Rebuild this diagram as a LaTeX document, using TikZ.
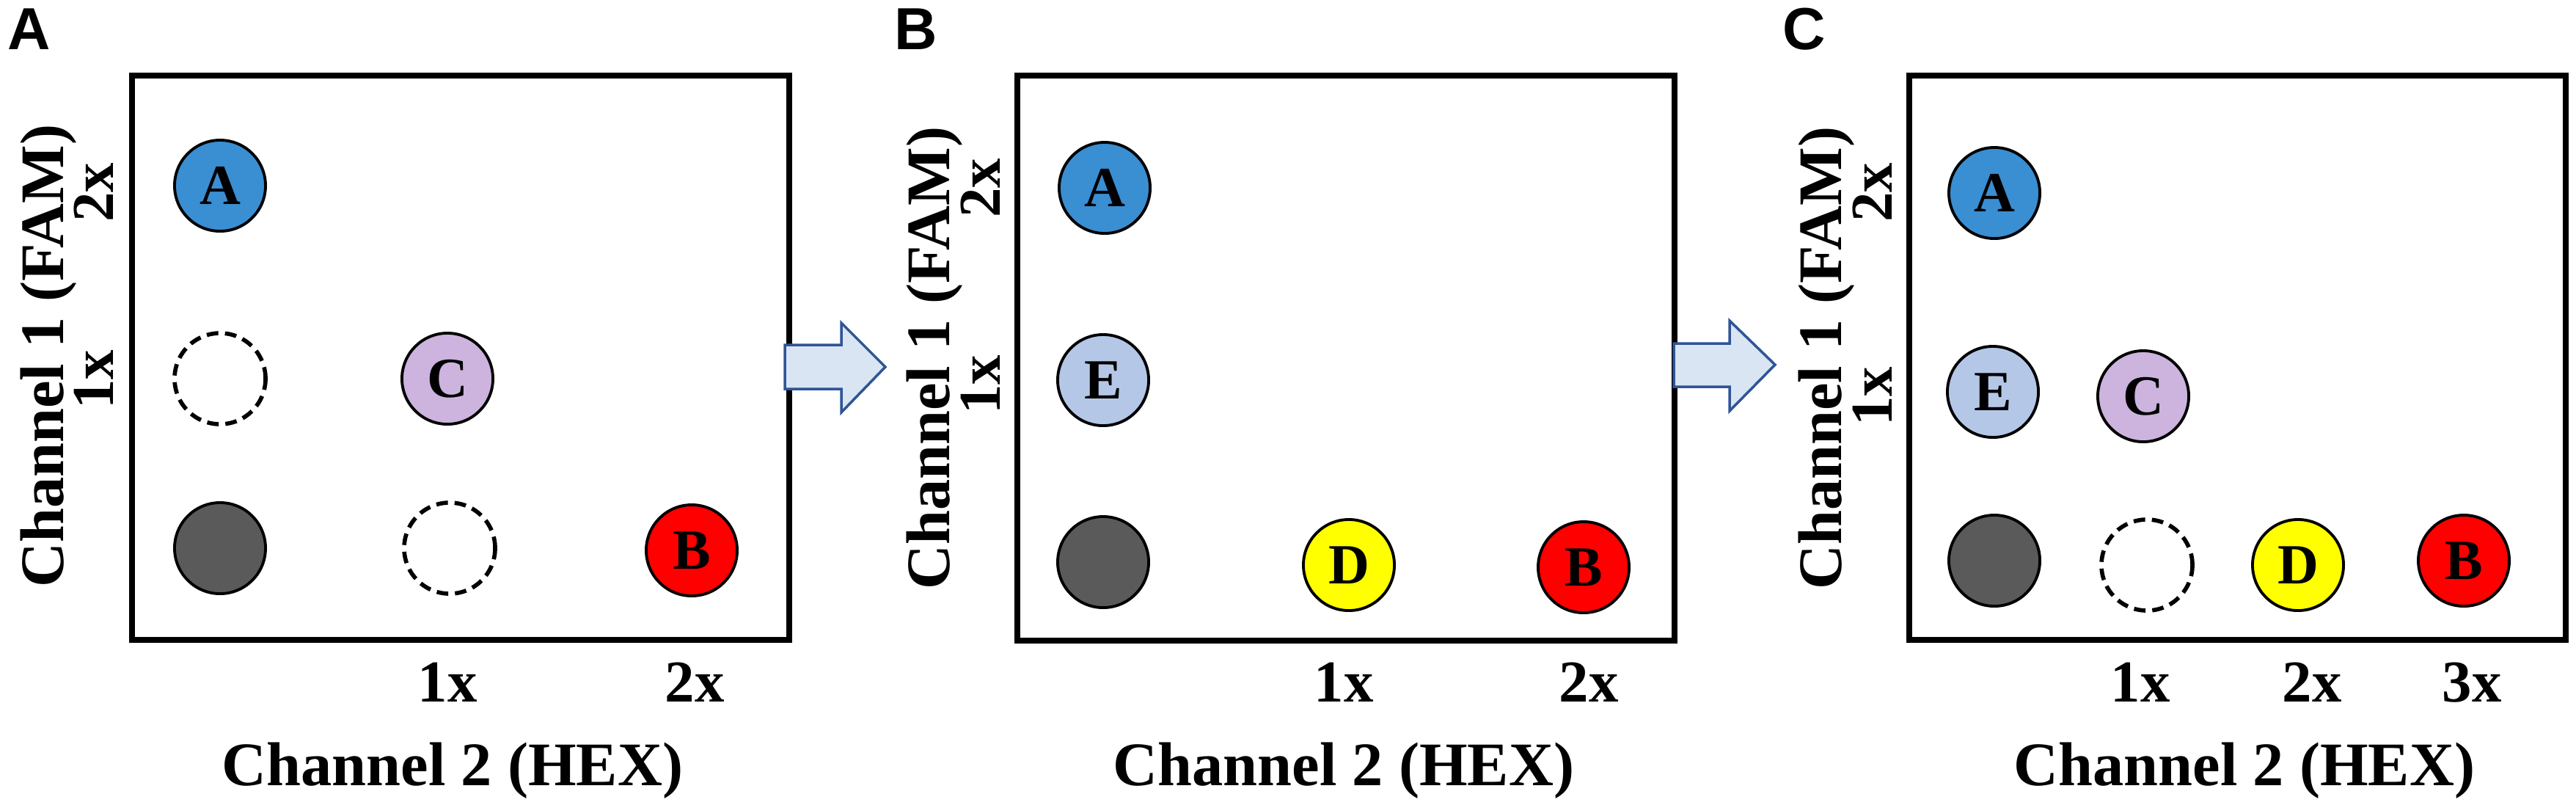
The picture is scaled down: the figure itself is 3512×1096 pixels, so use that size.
\documentclass[tikz,border=0pt]{standalone}
\usepackage{fontspec}
\setmainfont{Liberation Serif}
\setsansfont{Liberation Sans}
\usetikzlibrary{positioning}
\definecolor{famblue}{RGB}{58,142,210}
\definecolor{lightfam}{RGB}{180,199,231}
\definecolor{lilac}{RGB}{204,180,222}
\definecolor{blank}{RGB}{90,90,90}
\definecolor{hexred}{RGB}{255,0,0}
\definecolor{hexyellow}{RGB}{255,255,0}
\definecolor{arrowline}{RGB}{47,85,151}
\definecolor{arrowfill}{RGB}{218,229,243}

\begin{document}
\begin{tikzpicture}[x=0.01cm, y=-0.01cm,
    spot/.style={circle, draw, line width=1.1pt, minimum size=1.24cm, inner sep=0pt,
                 font=\fontsize{22}{22}\selectfont\bfseries},
    ghost/.style={circle, draw, dash pattern=on 4.5pt off 2.6pt, line width=1.6pt,
                  minimum size=1.24cm, inner sep=0pt},
    plate/.style={line width=2.3pt},
    ticklab/.style={font=\fontsize{23}{23}\selectfont\bfseries, inner sep=0pt},
    axislab/.style={font=\fontsize{24}{24}\selectfont\bfseries, inner sep=0pt},
    panel/.style={font=\sffamily\fontsize{23}{23}\selectfont\bfseries, inner sep=0pt},
    blockarrow/.style={draw=arrowline, fill=arrowfill, line width=1pt}]
    \useasboundingbox (0,0) rectangle (3512,1096);

    % panel A
    \node[panel] (labA) at (40,40) {A};
    \draw[plate] (180,103) rectangle (1076,872);
    \node[spot, fill=famblue] (aA) at (300,253) {A};
    \node[ghost] (aE) at (300,516) {};
    \node[spot, fill=lilac] (aC) at (610,516) {C};
    \node[spot, fill=blank] (aN) at (300,747) {};
    \node[ghost] (aD) at (613,747) {};
    \node[spot, fill=hexred] (aB) at (943,750) {B};
    \node[ticklab, rotate=90] (ay2) at (128,262) {2x};
    \node[ticklab, rotate=90] (ay1) at (128,517) {1x};
    \foreach \x/\t in {610/1x, 947/2x}
        \node[ticklab] (ax\t) at (\x,930) {\t};
    \node[axislab, anchor=base] (axA) at (617,1070) {Channel 2 (HEX)};
    \node[axislab, rotate=90, anchor=base] (ayA) at (87,485) {Channel 1 (FAM)};

    % panel B
    \node[panel] (labB) at (1249,40) {B};
    \draw[plate] (1387,103) rectangle (2283,873);
    \node[spot, fill=famblue] (bA) at (1506,256) {A};
    \node[spot, fill=lightfam] (bE) at (1504,518) {E};
    \node[spot, fill=blank] (bN) at (1504,766) {};
    \node[spot, fill=hexyellow] (bD) at (1839,770) {D};
    \node[spot, fill=hexred] (bB) at (2159,773) {B};
    \node[ticklab, rotate=90] (by2) at (1337,256) {2x};
    \node[ticklab, rotate=90] (by1) at (1337,524) {1x};
    \foreach \x/\t in {1832/1x, 2166/2x}
        \node[ticklab] (bx\t) at (\x,930) {\t};
    \node[axislab, anchor=base] (axB) at (1832,1070) {Channel 2 (HEX)};
    \node[axislab, rotate=90, anchor=base] (ayB) at (1294,488) {Channel 1 (FAM)};

    % panel C
    \node[panel] (labC) at (2460,40) {C};
    \draw[plate] (2603,103) rectangle (3498,872);
    \node[spot, fill=famblue] (cA) at (2719,263) {A};
    \node[spot, fill=lightfam] (cE) at (2717,534) {E};
    \node[spot, fill=lilac] (cC) at (2922,540) {C};
    \node[spot, fill=blank] (cN) at (2719,764) {};
    \node[ghost] (cG) at (2927,770) {};
    \node[spot, fill=hexyellow] (cD) at (3133,770) {D};
    \node[spot, fill=hexred] (cB) at (3359,764) {B};
    \node[ticklab, rotate=90] (cy2) at (2553,262) {2x};
    \node[ticklab, rotate=90] (cy1) at (2553,540) {1x};
    \foreach \x/\t in {2918/1x, 3152/2x, 3370/3x}
        \node[ticklab] (cx\t) at (\x,930) {\t};
    \node[axislab, anchor=base] (axC) at (3060,1070) {Channel 2 (HEX)};
    \node[axislab, rotate=90, anchor=base] (ayC) at (2510,488) {Channel 1 (FAM)};

    % block arrows between panels
    \draw[blockarrow] (1070,470) -- (1147,470) -- (1147,440) -- (1207,500)
        -- (1147,562) -- (1147,530) -- (1070,530) -- cycle;
    \draw[blockarrow] (2282,468) -- (2358,468) -- (2358,437) -- (2420,497)
        -- (2358,560) -- (2358,527) -- (2282,527) -- cycle;
\end{tikzpicture}
\end{document}
